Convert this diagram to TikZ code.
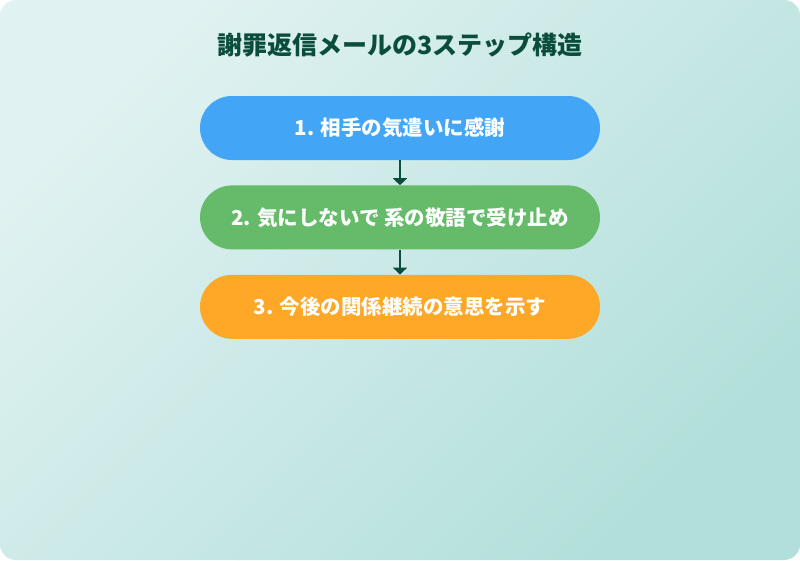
\documentclass[tikz,border=0pt]{standalone}
\usepackage{fontspec}
\setmainfont{Noto Sans CJK JP}
\usepackage{tikz}
\usetikzlibrary{positioning, arrows.meta}

\definecolor{bgtop}{HTML}{E0F2F1}
\definecolor{bgbot}{HTML}{B2DFDB}
\definecolor{darkteal}{HTML}{0B4D3C}
\definecolor{stepblue}{HTML}{42A5F5}
\definecolor{stepgreen}{HTML}{66BB6A}
\definecolor{steporange}{HTML}{FFA726}

\begin{document}
\begin{tikzpicture}[x=1pt, y=-1pt,
        node distance=25pt,
        stepbox/.style={rounded corners=32pt, minimum width=400pt, minimum height=64pt,
            text=white, font=\fontsize{20.5}{24}\selectfont\bfseries, inner sep=0pt},
        flow/.style={darkteal, line width=2.2pt, -{Triangle[width=14pt,length=7pt]}}]
        % Background
        \useasboundingbox (0,0) rectangle (800,560);
        \shade[rounded corners=16pt, top color=bgtop, bottom color=bgbot, shading angle=45]
            (0,0) rectangle (800,560);

        % Title
        \node[text=darkteal, font=\fontsize{25}{30}\selectfont\bfseries] (title) at (400,45)
            {謝罪返信メールの3ステップ構造};

        % Draw the steps
        \node[stepbox, fill=stepblue]           (s1) at (400,128) {1. 相手の気遣いに感謝};
        \node[stepbox, fill=stepgreen, below=of s1] (s2) {2. 気にしないで 系の敬語で受け止め};
        \node[stepbox, fill=steporange, below=of s2] (s3) {3. 今後の関係継続の意思を示す};

        % Connect the steps with arrows
        \draw[flow] (s1) -- (s2);
        \draw[flow] (s2) -- (s3);
\end{tikzpicture}
\end{document}
